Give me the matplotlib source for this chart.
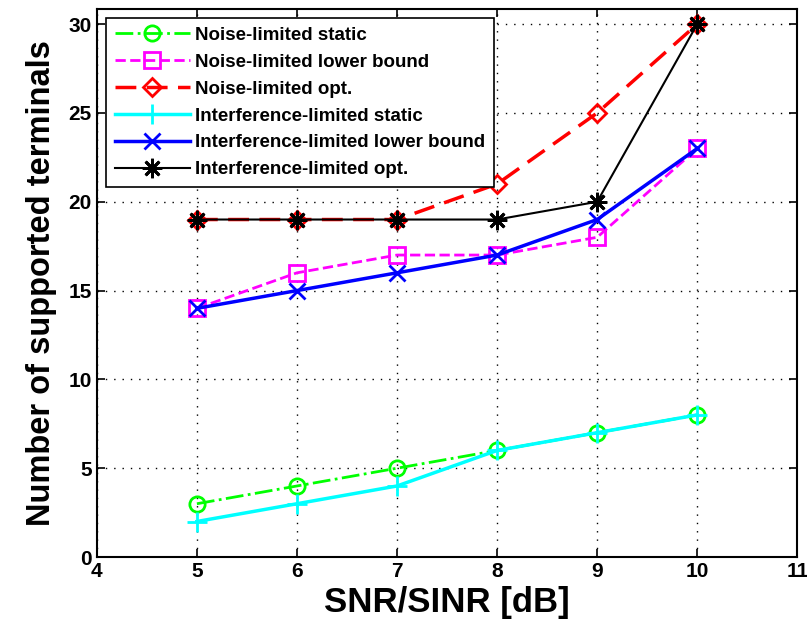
import numpy as np
import matplotlib
matplotlib.use("Agg")
import matplotlib.pyplot as plt

plt.rcParams['font.family'] = ['Liberation Sans', 'DejaVu Sans']
plt.rcParams['font.weight'] = 'bold'

# data
snr = [5, 6, 7, 8, 9, 10]
noise_static = [3, 4, 5, 6, 7, 8]
noise_lower = [14, 16, 17, 17, 18, 23]
noise_opt = [19, 19, 19, 21, 25, 30]
intf_static = [2, 3, 4, 6, 7, 8]
intf_lower = [14, 15, 16, 17, 19, 23]
intf_opt = [19, 19, 19, 19, 20, 30]

labels = ["Noise-limited static", "Noise-limited lower bound", "Noise-limited opt.",
          "Interference-limited static", "Interference-limited lower bound",
          "Interference-limited opt."]

fig = plt.figure(figsize=(8.07, 6.27), dpi=100)
ax = fig.add_axes([0.120, 0.1116, 0.868, 0.874])

ax.plot(snr, noise_static, color='#00ff00', ls='-.', lw=2, marker='o', ms=11,
        mfc='none', mew=2, label=labels[0])
ax.plot(snr, noise_lower, color='#ff00ff', ls='--', lw=2, marker='s', ms=11,
        mfc='none', mew=2, label=labels[1])
ax.plot(snr, noise_opt, color='#ff0000', ls='--', lw=2.5, marker='D', ms=9,
        mfc='none', mew=2, label=labels[2], dashes=(6, 3))
ax.plot(snr, intf_static, color='#00ffff', ls='-', lw=2.5, marker='+', ms=15,
        mew=2, label=labels[3])
ax.plot(snr, intf_lower, color='#0000ff', ls='-', lw=2.5, marker='x', ms=11,
        mew=2, label=labels[4])
ax.plot(snr, intf_opt, color='black', ls='-', lw=1.5, marker=(8, 2, 0), ms=14,
        mew=2, label=labels[5])

ax.set_xlim(4, 11)
ax.set_ylim(0, 30.85)
ax.set_xticks(range(4, 12))
ax.set_yticks(range(0, 31, 5))
ax.grid(True, color='black', ls=(0, (1, 5)), lw=1)
ax.tick_params(direction='in', labelsize=15, length=6, top=True, right=True, width=1.2)
for t in ax.get_xticklabels() + ax.get_yticklabels():
    t.set_fontweight('bold')
for s in ax.spines.values():
    s.set_linewidth(1.5)

ax.set_xlabel("SNR/SINR [dB]", fontsize=25, fontweight='bold', labelpad=4)
ax.set_ylabel("Number of supported terminals", fontsize=23.5, fontweight='bold', labelpad=8)

leg = ax.legend(loc='upper left', prop={'weight': 'bold', 'size': 13.5},
                fancybox=False, edgecolor='black', framealpha=1,
                borderaxespad=0.5, handlelength=4, labelspacing=0.52,
                borderpad=0.45, handletextpad=0.3)
leg.get_frame().set_linewidth(1.2)

fig.savefig("out.png", dpi=100)
